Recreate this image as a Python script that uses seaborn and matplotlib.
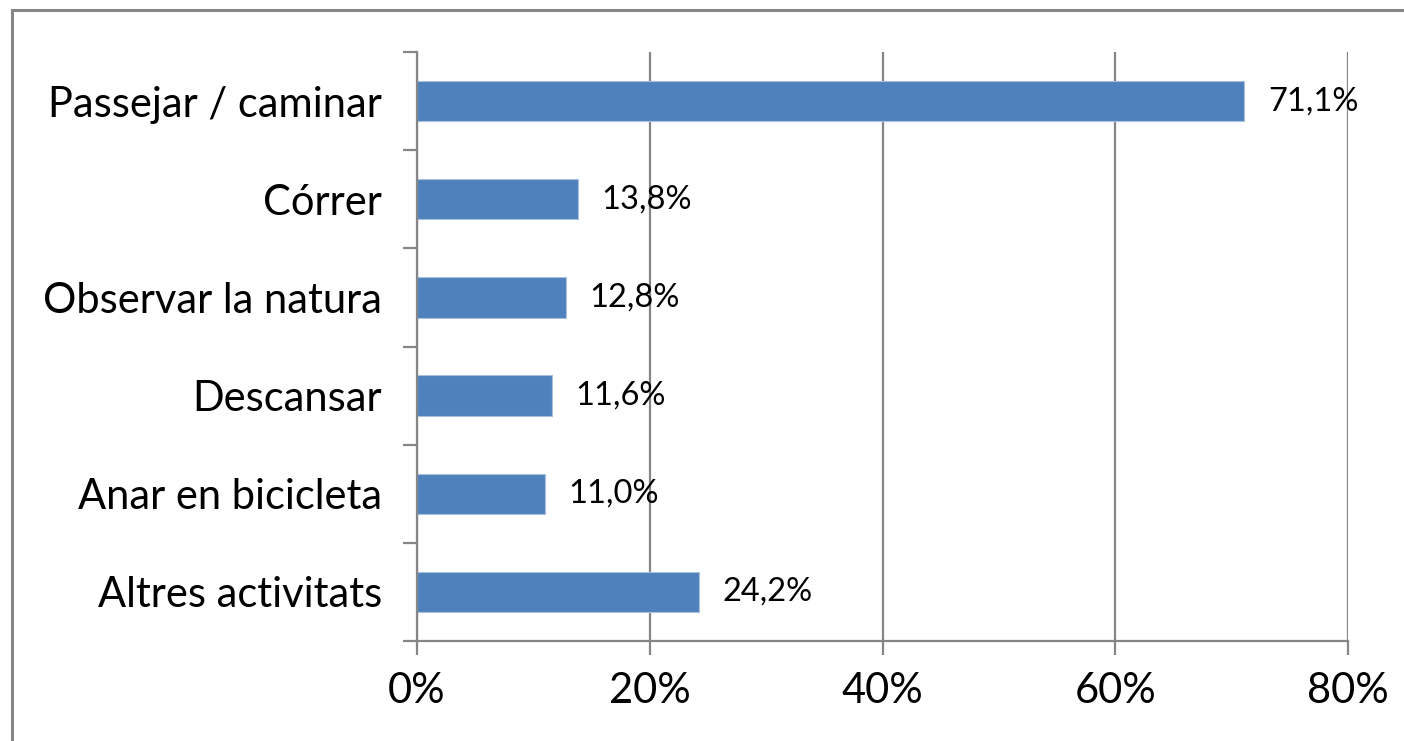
"""Horizontal bar chart: activitats realitzades (percentatge)."""

import matplotlib

matplotlib.use("Agg")

import matplotlib.pyplot as plt
import pandas as pd
import seaborn as sns
from matplotlib.patches import Rectangle
from matplotlib.ticker import FuncFormatter

CATEGORIES = [
    "Passejar / caminar",
    "Córrer",
    "Observar la natura",
    "Descansar",
    "Anar en bicicleta",
    "Altres activitats",
]
VALUES = [71.1, 13.8, 12.8, 11.6, 11.0, 24.2]
X_TICKS = [0, 20, 40, 60, 80]

BAR_COLOR = "#4F81BD"
GRAY = "#868686"


def main() -> None:
    sns.set_theme(style="white")
    plt.rcParams["font.family"] = ["Lato", "DejaVu Sans"]

    df = pd.DataFrame({"activitat": CATEGORIES, "percent": VALUES})

    fig = plt.figure(figsize=(14.04, 7.41), dpi=100)
    ax = fig.add_axes([417 / 1404, 100 / 741, 931 / 1404, 589 / 741])

    sns.barplot(
        data=df,
        x="percent",
        y="activitat",
        orient="h",
        color=BAR_COLOR,
        width=0.41,
        saturation=1,
        edgecolor="#A9C0DF",
        linewidth=0.8,
        ax=ax,
        zorder=3,
    )

    ax.set_xlim(0, 80)
    ax.set_ylim(len(CATEGORIES) - 0.5, -0.5)
    ax.set_xticks(X_TICKS)
    ax.xaxis.set_major_formatter(FuncFormatter(lambda v, _: f"{v:.0f}%"))
    ax.set_yticks([i - 0.5 for i in range(len(CATEGORIES) + 1)], minor=True)
    ax.set_xlabel("")
    ax.set_ylabel("")

    ax.grid(axis="x", color=GRAY, linewidth=1.6, zorder=0)
    ax.set_axisbelow(True)
    for side in ["top", "right"]:
        ax.spines[side].set_visible(False)
    for side in ["left", "bottom"]:
        ax.spines[side].set_color(GRAY)
        ax.spines[side].set_linewidth(1.6)
        ax.spines[side].set_zorder(4)

    ax.tick_params(axis="y", which="major", length=0, pad=25, labelsize=30, labelcolor="black")
    ax.tick_params(axis="y", which="minor", left=True, length=10, width=1.6, color=GRAY)
    ax.tick_params(axis="x", bottom=True, length=10, width=1.6, color=GRAY, pad=12,
                   labelsize=30, labelcolor="black")

    for i, v in enumerate(VALUES):
        label = f"{v:.1f}%".replace(".", ",")
        ax.annotate(label, xy=(v, i), xytext=(17, 0), textcoords="offset points",
                    va="center", ha="left", fontsize=23.5, color="black", zorder=5)

    fig.patches.append(
        Rectangle((12 / 1404, -0.1), 1.2, 1.1 - 10 / 741, transform=fig.transFigure,
                  fill=False, edgecolor=GRAY, linewidth=2.2, figure=fig)
    )

    fig.savefig("out.png", dpi=100)
    plt.close(fig)


if __name__ == "__main__":
    main()
